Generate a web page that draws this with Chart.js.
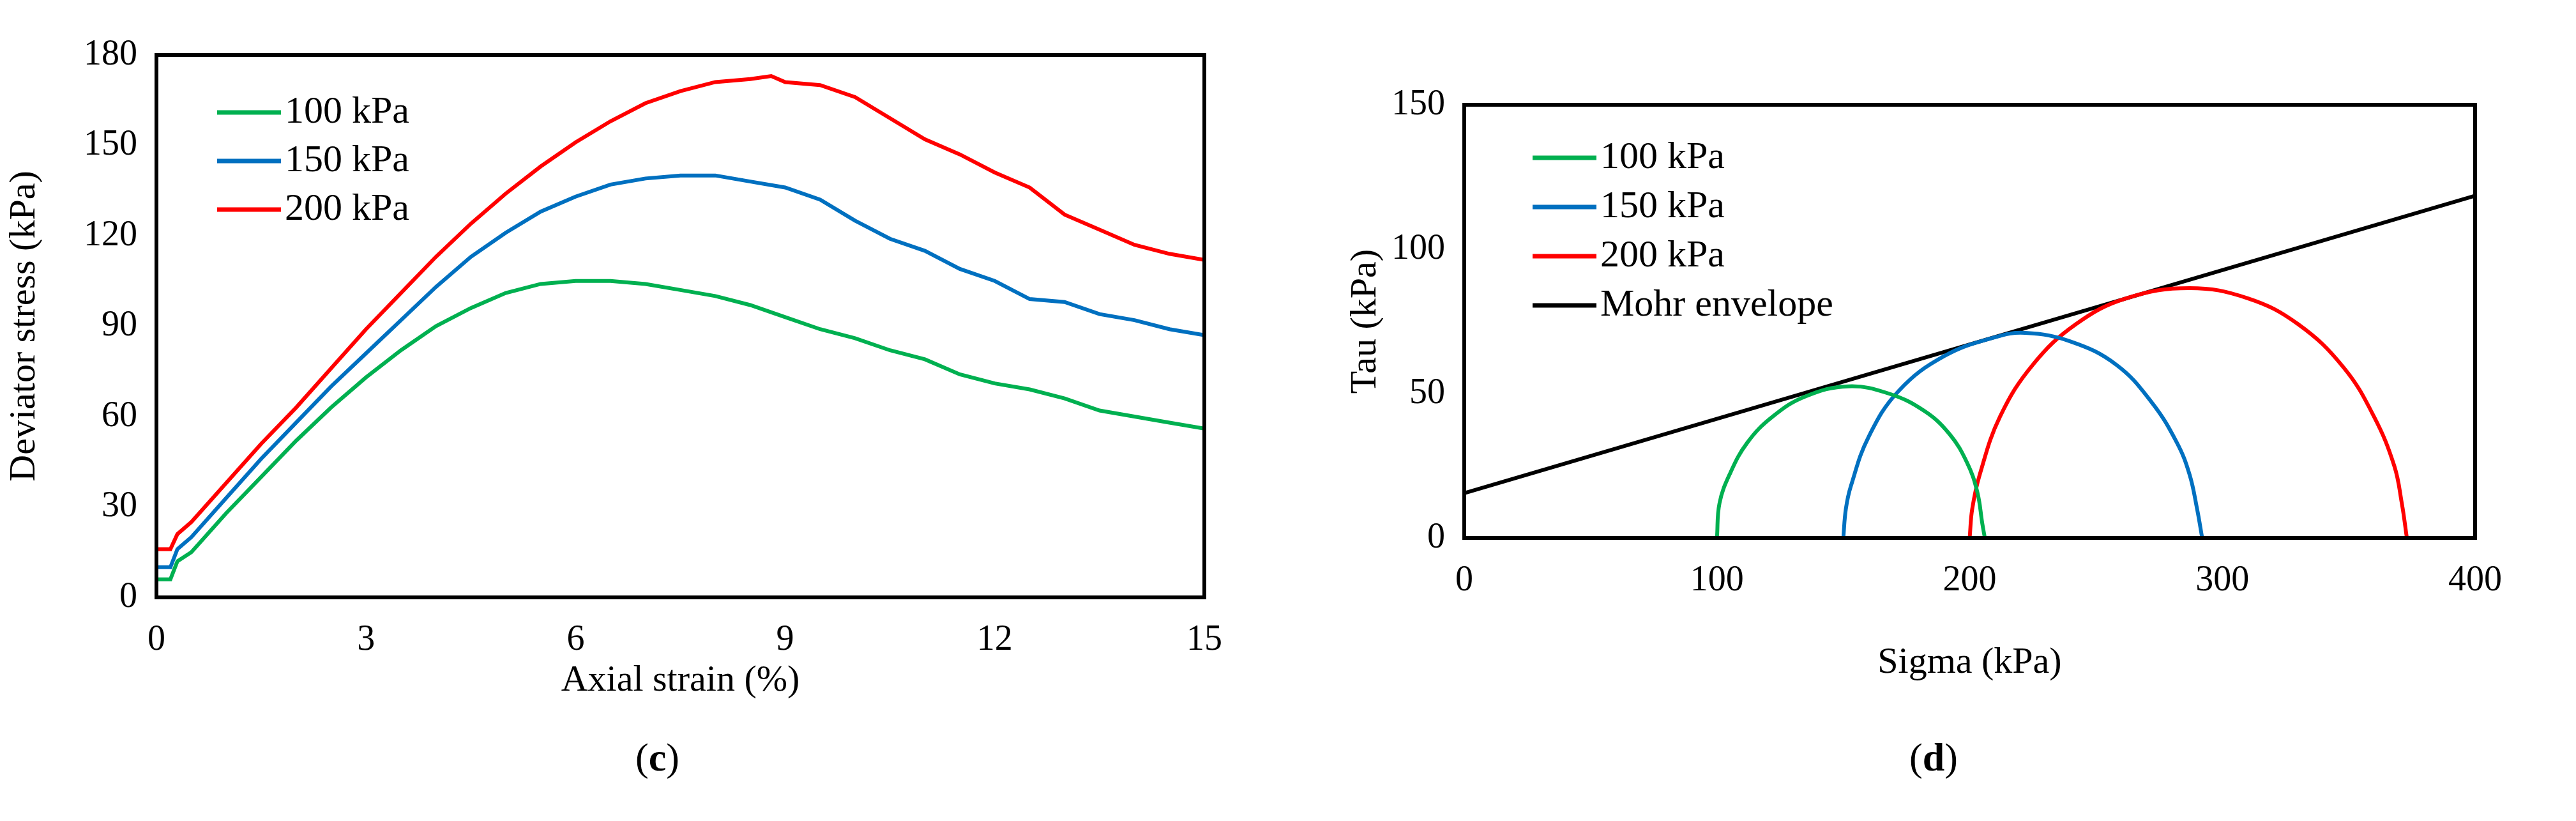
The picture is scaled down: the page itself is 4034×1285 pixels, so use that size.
<!DOCTYPE html>
<html><head><meta charset="utf-8">
<script src="https://cdn.jsdelivr.net/npm/chart.js@4"></script>
<style>
body{margin:0;background:#fff;width:4034px;height:1285px;position:relative;overflow:hidden;font-family:"Liberation Serif",serif}
.c{position:absolute;top:0;height:1285px}
.cap{position:absolute;top:1150px;font:62px "Liberation Serif";}
</style></head><body>
<div class="c" style="left:0;width:2000px"><canvas id="a"></canvas></div>
<div class="c" style="left:2100px;width:1934px"><canvas id="b"></canvas></div>
<div class="cap" style="left:995px">(<b>c</b>)</div>
<div class="cap" style="left:2990px">(<b>d</b>)</div>
<script>
const strain=[0,0.2,0.3,0.5,1,1.5,2,2.5,3,3.5,4,4.5,5,5.5,6,6.5,7,7.5,8,8.5,9,9.5,10,10.5,11,11.5,12,12.5,13,13.5,14,14.5,15];
const dev100=[6,6,12,15,28,40,52,63,73,82,90,96,101,104,105,105,104,102,100,97,93,89,86,82,79,74,71,69,66,62,60,58,56];
const dev150=[10,10,16,20,33,46,58,70,81,92,103,113,121,128,133,137,139,140,140,138,136,132,125,119,115,109,105,99,98,94,92,89,87];
const strainR=[0,0.2,0.3,0.5,1,1.5,2,2.5,3,3.5,4,4.5,5,5.5,6,6.5,7,7.5,8,8.5,8.8,9,9.5,10,10.5,11,11.5,12,12.5,13,13.5,14,14.5,15];
const dev200=[16,16,21,25,38,51,63,76,89,101,113,124,134,143,151,158,164,168,171,172,173,171,170,166,159,152,147,141,136,127,122,117,114,112];
const labels=["100 kPa","150 kPa","200 kPa","Mohr envelope"];
const colors=["#00b050","#0070c0","#ff0000","#000000"];
const c100=[[100,0],[101,12],[105,22],[112,33],[122,42],[135,49],[152,52.5],[168,50],[182,44],[192,36],[199,26],[203,16],[205,5],[206,0]];
const c150=[[150,0],[151,10],[153,18],[160,35],[172,51],[190,63],[210,69.5],[222,71],[240,68],[258,60],[272,47],[282,33],[287,22],[290,10],[292,0]];
const c200=[[200,0],[201,10],[204,22],[212,42],[225,60],[242,74],[262,83],[287,86.5],[310,83],[330,74],[348,59],[360,42],[368,25],[371,12],[373,0]];
const env=[[0,15.5],[400,118.5]];
const F='"Liberation Serif"';
function xy(xs,ys){return xs.map((x,i)=>({x:x,y:ys[i]}));}
function pts(a){return a.map(p=>({x:p[0],y:p[1]}));}
function frame(leg){return {id:'frame',afterDraw(ch){const c=ch.ctx,a=ch.chartArea;c.save();c.strokeStyle='#000';c.lineWidth=6;c.strokeRect(a.left,a.top,a.right-a.left,a.bottom-a.top);
c.font='60px '+F;c.textBaseline='middle';c.fillStyle='#000';
leg.items.forEach((t,i)=>{const y=leg.y+i*leg.dy;c.strokeStyle=colors[i];c.lineWidth=7;c.beginPath();c.moveTo(leg.x,y);c.lineTo(leg.x+100,y);c.stroke();c.fillText(t,leg.x+106,y);});c.restore();}};}
function ds(d,i){return {data:d,borderColor:colors[i],borderWidth:6,pointRadius:0,fill:false,tension:i<3&&d.length<20?0.4:0};}
function opts(xmin,xmax,xstep,ymin,ymax,ystep,xt,yt,yw,xh,pad){return {responsive:false,animation:false,
layout:{padding:pad},plugins:{legend:{display:false},tooltip:{enabled:false}},
scales:{x:{type:'linear',min:xmin,max:xmax,ticks:{stepSize:xstep,color:'#000',font:{family:F,size:56},padding:26},grid:{display:false},border:{display:false},
title:{display:true,text:xt,color:'#000',font:{family:F,size:58},padding:{top:10}},afterFit(s){s.height=xh;}},
y:{min:ymin,max:ymax,ticks:{stepSize:ystep,color:'#000',font:{family:F,size:56},padding:22},grid:{display:false},border:{display:false},
title:{display:true,text:yt,color:'#000',font:{family:F,size:58},padding:{bottom:4}},afterFit(s){s.width=yw;}}}};}
const ca=document.getElementById('a');ca.width=2000;ca.height=1285;
new Chart(ca,{type:'line',data:{datasets:[ds(xy(strain,dev100),0),ds(xy(strain,dev150),1),ds(xy(strainR,dev200),2)]},
options:opts(0,15,3,0,180,30,'Axial strain (%)','Deviator stress (kPa)',245,170,{left:0,top:86,right:114,bottom:1285-935-170}),
plugins:[frame({items:labels.slice(0,3),x:340,y:176,dy:76})]});
const cb=document.getElementById('b');cb.width=1934;cb.height=1285;
new Chart(cb,{type:'line',data:{datasets:[ds(pts(c100),0),ds(pts(c150),1),ds(pts(c200),2),ds(pts(env),3)]},
options:opts(0,400,100,0,150,50,'Sigma (kPa)','Tau (kPa)',193,235,{left:0,top:164,right:158,bottom:1285-842-235}),
plugins:[frame({items:labels,x:300,y:247,dy:77})]});
</script></body></html>
